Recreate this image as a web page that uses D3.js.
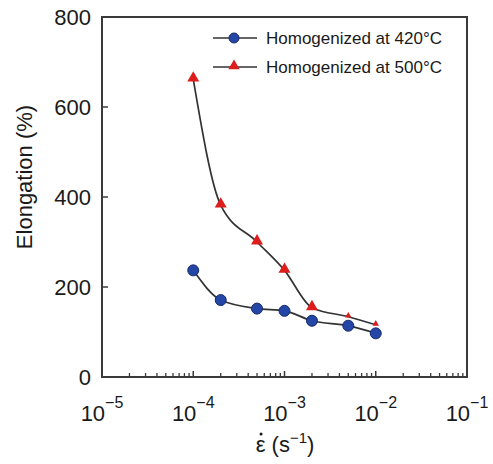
<!DOCTYPE html>
<html>
<head>
<meta charset="utf-8">
<script src="https://cdn.jsdelivr.net/npm/d3@7"></script>
<style>
  body { margin: 0; background: #fff; }
  svg { font-family: "Liberation Sans", Arial, sans-serif; }
</style>
</head>
<body>
<div id="chart"></div>
<script>
// strain rates (s^-1) and elongation (%)
var rates = [1e-4, 2e-4, 5e-4, 1e-3, 2e-3, 5e-3, 1e-2];
var elong420 = [237, 171, 152, 147, 125, 114, 97];
var elong500 = [662, 382, 300, 237, 154, 134, 116];
var seriesNames = ["Homogenized at 420\u00B0C", "Homogenized at 500\u00B0C"];
var xDecades = [-5, -4, -3, -2, -1];
var yTicks = [0, 200, 400, 600, 800];

var width = 493, height = 464;
// plot box
var pLeft = 102, pRight = 467, pTop = 17, pBottom = 377;

var svg = d3.select('#chart').append('svg')
  .attr('width', width)
  .attr('height', height);

var x = d3.scaleLog().domain([1e-5, 1e-1]).range([pLeft, pRight]);
var y = d3.scaleLinear().domain([0, 800]).range([pBottom, pTop]);

var frameColor = '#3a3a3a';

// minor + major ticks on the x axis, pointing inward
var minor = [];
xDecades.slice(0, -1).forEach(function(p) {
  for (var k = 2; k <= 9; k++) minor.push(k * Math.pow(10, p));
});
svg.append('g').selectAll('line.minor')
  .data(minor)
  .enter().append('line')
  .attr('x1', function(d) { return x(d); })
  .attr('x2', function(d) { return x(d); })
  .attr('y1', pBottom)
  .attr('y2', pBottom - 4)
  .attr('stroke', frameColor)
  .attr('stroke-width', 1.3);

svg.append('g').selectAll('line.major')
  .data(xDecades.slice(1, -1))
  .enter().append('line')
  .attr('x1', function(d) { return x(Math.pow(10, d)); })
  .attr('x2', function(d) { return x(Math.pow(10, d)); })
  .attr('y1', pBottom)
  .attr('y2', pBottom - 6)
  .attr('stroke', frameColor)
  .attr('stroke-width', 1.5);

// y ticks, inward
svg.append('g').selectAll('line.yt')
  .data(yTicks.slice(1, -1))
  .enter().append('line')
  .attr('x1', pLeft)
  .attr('x2', pLeft + 6)
  .attr('y1', function(d) { return y(d); })
  .attr('y2', function(d) { return y(d); })
  .attr('stroke', frameColor)
  .attr('stroke-width', 1.5);

// frame
svg.append('rect')
  .attr('x', pLeft).attr('y', pTop)
  .attr('width', pRight - pLeft).attr('height', pBottom - pTop)
  .attr('fill', 'none')
  .attr('stroke', frameColor)
  .attr('stroke-width', 2);

// y tick labels
svg.append('g').selectAll('text')
  .data(yTicks)
  .enter().append('text')
  .attr('x', pLeft - 11)
  .attr('y', function(d) { return y(d) + 8; })
  .attr('text-anchor', 'end')
  .style('font-size', '22px')
  .attr('fill', '#1a1a1a')
  .text(function(d) { return d; });

// x tick labels 10^n
var xl = svg.append('g').selectAll('text')
  .data(xDecades)
  .enter().append('text')
  .attr('x', function(d) { return x(Math.pow(10, d)); })
  .attr('y', 421)
  .attr('text-anchor', 'middle')
  .attr('fill', '#1a1a1a')
  .style('font-size', '22px');
xl.append('tspan').text('10');
xl.append('tspan')
  .attr('dy', -13)
  .style('font-size', '16px')
  .text(function(d) { return '\u2212' + Math.abs(d); });

// axis titles
svg.append('text')
  .attr('transform', 'translate(32,' + 177 + ') rotate(-90)')
  .attr('text-anchor', 'middle')
  .style('font-size', '22px')
  .attr('fill', '#1a1a1a')
  .text('Elongation (%)');

var xt = svg.append('text')
  .attr('x', 285)
  .attr('y', 452)
  .attr('text-anchor', 'middle')
  .style('font-size', '22px')
  .attr('fill', '#1a1a1a');
xt.append('tspan').text('\u03B5 (s');
xt.append('tspan').attr('dy', -9).style('font-size', '15px').text('\u22121');
xt.append('tspan').attr('dy', 9).text(')');
// dot over the epsilon (strain rate)
var eps = xt.node().getExtentOfChar(0);
svg.append('circle')
  .attr('cx', eps.x + eps.width / 2 + 0.5)
  .attr('cy', 434)
  .attr('r', 1.5)
  .attr('fill', '#1a1a1a');

// series
var line = d3.line()
  .x(function(d) { return x(d[0]); })
  .y(function(d) { return y(d[1]); })
  .curve(d3.curveMonotoneX);

var pts420 = d3.zip(rates, elong420);
var pts500 = d3.zip(rates, elong500);

[pts420, pts500].forEach(function(pts) {
  svg.append('path')
    .datum(pts)
    .attr('d', line)
    .attr('fill', 'none')
    .attr('stroke', '#333')
    .attr('stroke-width', 1.7);
});

var blue = '#2446a6', blueEdge = '#16296b', red = '#dd1c1c';

svg.append('g').selectAll('circle')
  .data(pts420)
  .enter().append('circle')
  .attr('cx', function(d) { return x(d[0]); })
  .attr('cy', function(d) { return y(d[1]); })
  .attr('r', 5.5)
  .attr('fill', blue)
  .attr('stroke', blueEdge)
  .attr('stroke-width', 1);

var tri = d3.symbol().type(d3.symbolTriangle);
svg.append('g').selectAll('path')
  .data(pts500)
  .enter().append('path')
  .attr('transform', function(d) { return 'translate(' + x(d[0]) + ',' + (y(d[1]) - 1) + ')'; })
  // the last two markers are drawn smaller in the original
  .attr('d', function(d, i) { return tri.size(i >= 5 ? 18 : 62)(); })
  .attr('fill', red);

// legend
var legend = svg.append('g');
seriesNames.forEach(function(name, i) {
  var ly = 38 + i * 29;
  var g = legend.append('g');
  g.append('line')
    .attr('x1', 213).attr('x2', 257)
    .attr('y1', ly).attr('y2', ly)
    .attr('stroke', '#333').attr('stroke-width', 1.7);
  if (i === 0) {
    g.append('circle').attr('cx', 234).attr('cy', ly).attr('r', 5)
      .attr('fill', blue).attr('stroke', blueEdge);
  } else {
    g.append('path').attr('transform', 'translate(234,' + (ly - 1) + ')')
      .attr('d', tri.size(55)()).attr('fill', red);
  }
  g.append('text')
    .attr('x', 266).attr('y', ly + 6)
    .style('font-size', '17px')
    .attr('fill', '#1a1a1a')
    .text(name);
});
</script>
</body>
</html>
